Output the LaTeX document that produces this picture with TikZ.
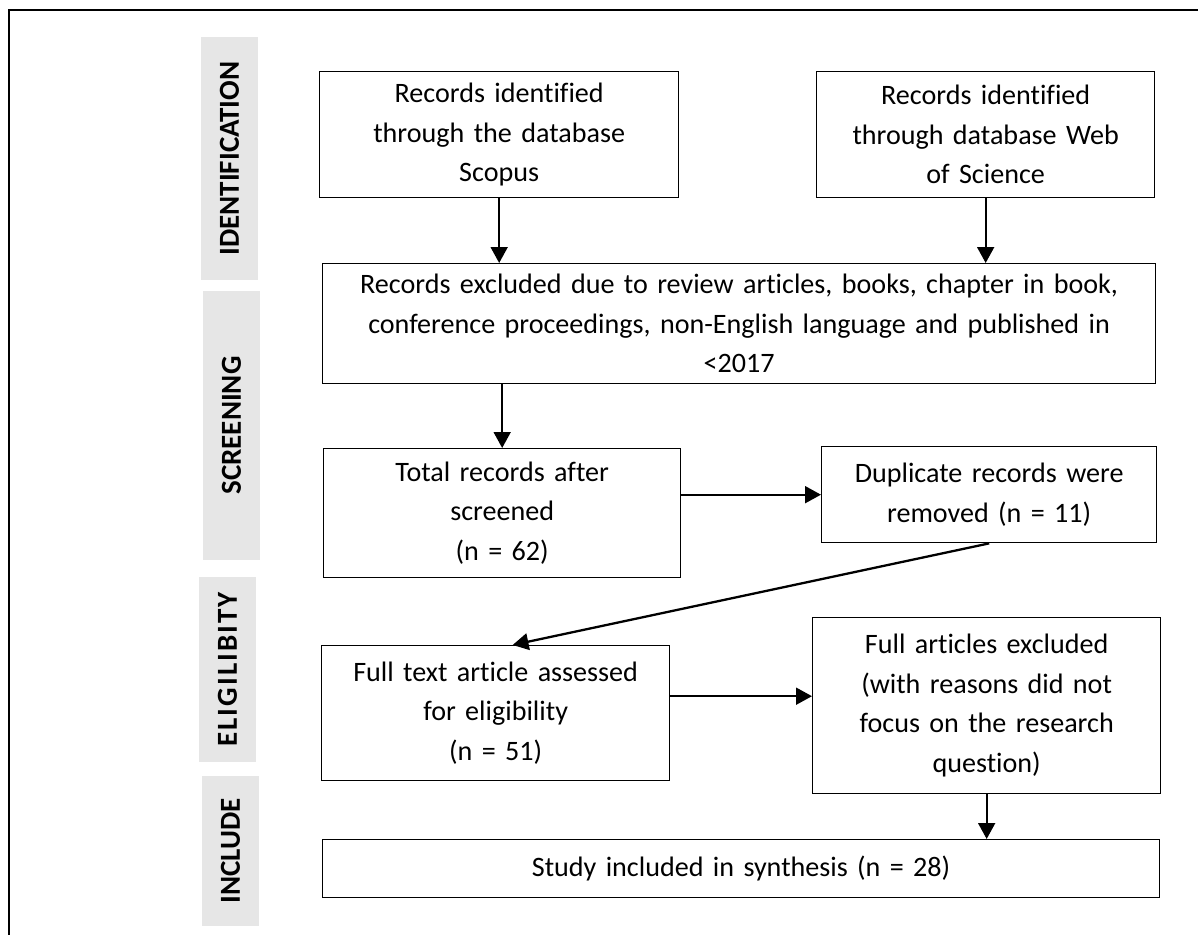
\documentclass[tikz,border=0pt]{standalone}
\usepackage{fontspec}
\setmainfont{Carlito}[Ligatures=NoCommon]
\newfontfamily\widebar{Carlito}[Ligatures=NoCommon, LetterSpace=7]
\usetikzlibrary{arrows.meta}
\definecolor{barfill}{HTML}{E6E6E6}

\tikzset{
  box/.style={draw, line width=0.8pt, anchor=north west, inner sep=0pt,
    align=center, font=\fontsize{16}{22.5}\selectfont},
  phase/.style={fill=barfill, rotate=90, inner sep=0pt, minimum height=1.14cm,
    font=\fontsize{16.5}{18}\selectfont\bfseries},
  arr/.style={line width=1.3pt, -{Triangle[length=9pt,width=9.5pt]}}
}

\begin{document}
\begin{tikzpicture}[x=0.02cm, y=-0.02cm]
\useasboundingbox (0,0) rectangle (1198,935);
\draw[line width=1.4pt] (9,935) -- (9,10) -- (1198,10);

% phase labels
\node[phase, minimum width=4.86cm] (ident) at (229.5,158.5) {IDENTIFICATION};
\node[phase, minimum width=5.38cm] (screen) at (231.5,425.5) {SCREENING};
\node[phase, minimum width=3.70cm] (elig) at (227.5,669.5) {\widebar\bfseries ELIGILIBITY};
\node[phase, minimum width=3.00cm] (incl) at (230.5,851) {INCLUDE};

% boxes
\node[box, minimum width=7.18cm, minimum height=2.52cm, text width=6.8cm] (scopus) at (319,71)
  {Records identified\\ through the database\\ Scopus};
\node[box, minimum width=6.76cm, minimum height=2.52cm, text width=6.4cm] (wos) at (816,71)
  {Records identified\\ through database Web\\ of Science};
\node[box, minimum width=16.66cm, minimum height=2.40cm, text width=16.2cm] (excl) at (322,263)
  {Records excluded due to review articles, books, chapter in book,\\ conference proceedings, non-English language and published in\\ <2017};
\node[box, minimum width=7.14cm, minimum height=2.58cm, text width=6.8cm] (total) at (323,448)
  {Total records after\\ screened\\ (n = 62)};
\node[box, minimum width=6.70cm, minimum height=1.92cm, text width=6.4cm] (dup) at (821,446)
  {Duplicate records were\\ removed (n = 11)};
\node[box, minimum width=6.96cm, minimum height=2.70cm, text width=6.6cm] (ft) at (321,645)
  {Full text article assessed\\ for eligibility\\ (n = 51)};
\node[box, minimum width=6.96cm, minimum height=3.52cm, text width=6.6cm] (fa) at (812,617)
  {Full articles excluded\\ (with reasons did not\\ focus on the research\\ question)};
\node[box, minimum width=16.74cm, minimum height=1.16cm, text width=16.4cm] (study) at (322,839)
  {Study included in synthesis (n = 28)};

% arrows
\draw[arr] (scopus.south) -- (scopus.south |- excl.north);
\draw[arr] (wos.south) -- (wos.south |- excl.north);
\draw[arr] (total.north |- excl.south) -- (total.north);
\draw[arr] (total.east |- dup.west) -- (dup.west);
\draw[arr] (dup.south) -- ([xshift=0.34cm]ft.north);
\draw[arr] ([yshift=0.34cm]ft.east) coordinate (fte) -- (fte -| fa.west);
\draw[arr] (fa.south) -- (fa.south |- study.north);
\end{tikzpicture}
\end{document}
